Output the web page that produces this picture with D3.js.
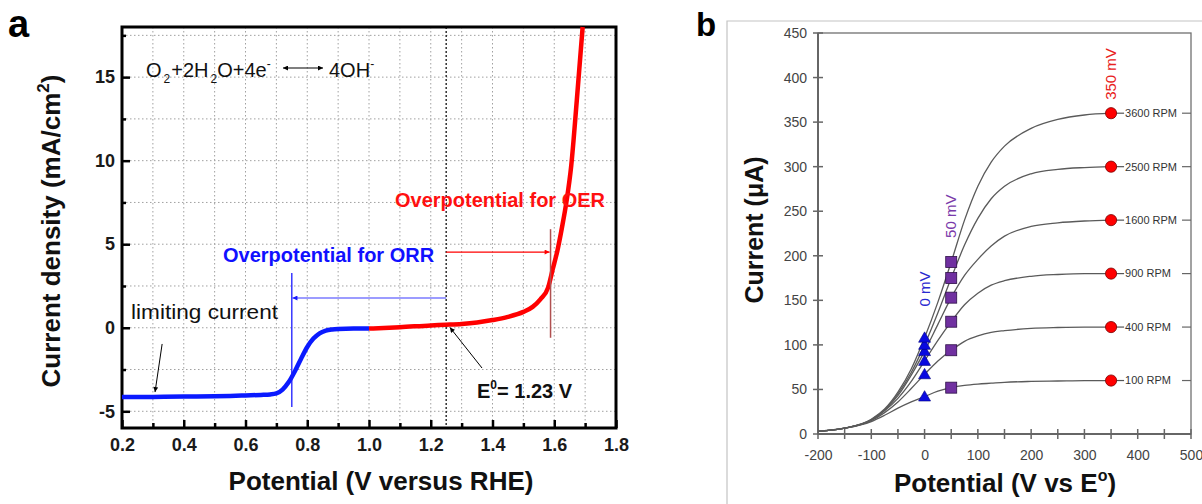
<!DOCTYPE html>
<html><head><meta charset="utf-8">
<script src="https://cdn.jsdelivr.net/npm/d3@7"></script>
<style>
body{margin:0;background:#fff;}
svg{display:block;font-family:Arial,"Liberation Sans",sans-serif;}
</style></head><body>
<svg id="c" width="1202" height="504"></svg>
<script>
// ---------- Panel a data ----------
const orrPotential = [0.2,0.3,0.4,0.5,0.55,0.6,0.65,0.68,0.7,0.72,0.74,0.76,0.78,0.8,0.82,0.84,0.86,0.88,0.9,0.95,1.0];
const orrCurrent   = [-4.15,-4.14,-4.12,-4.1,-4.08,-4.05,-4.02,-3.99,-3.93,-3.7,-3.25,-2.6,-1.85,-1.15,-0.65,-0.33,-0.17,-0.1,-0.07,-0.05,-0.05];
const oerPotential = [1.0,1.1,1.2,1.25,1.3,1.35,1.4,1.45,1.5,1.53,1.555,1.58,1.595,1.61,1.625,1.64,1.655,1.673,1.692];
const oerCurrent   = [-0.05,0.03,0.14,0.18,0.23,0.32,0.46,0.65,0.95,1.25,1.7,2.4,3.5,4.6,6.0,7.6,9.7,13.6,18];
const aXMajor = [0.2,0.4,0.6,0.8,1.0,1.2,1.4,1.6,1.8];
const aXMinor = [0.3,0.5,0.7,0.9,1.1,1.3,1.5,1.7];
const aXGrid  = [0.3,0.4,0.5,0.6,0.7,0.8,0.9,1.0,1.1,1.2,1.3,1.4,1.5,1.6,1.7];
const aYMajor = [-5,0,5,10,15];
const aYMinor = [-2.5,2.5,7.5,12.5,17.5];
const aYGrid  = [-5,-2.5,0,2.5,5,7.5,10,12.5,15,17.5];

// ---------- Panel b data ----------
const bPotential = [-200,-150,-100,-75,-50,-25,0,25,50,75,100,125,150,200,250,300,350];
const rpmLabels = ["100 RPM","400 RPM","900 RPM","1600 RPM","2500 RPM","3600 RPM"];
const i100  = [3,6.5,14,21,29,36,42,48,52,54.5,56,57,58,59,59.5,60,60];
const i400  = [3,6.5,15,24,36,51,67,82,94,104,110,114,116,118.5,119.5,120,120];
const i900  = [3,6.5,15.5,26,40,59,82,105,126,145,158,167,172,177,179,180,180];
const i1600 = [3,6.5,16,27,43,66,93,123,153,178,196,211,222,233,237,239,240];
const i2500 = [3,6.5,16,27,45,69,100,136,175,212,242,264,278,292,297,299,300];
const i3600 = [3,6.5,16.5,28,47,73,108,148,193,240,278,305,323,343,353,358,360];
const bCurves = [i100,i400,i900,i1600,i2500,i3600];
const tri0mV   = [42,67,82,93,100,108];
const sq50mV   = [52,94,126,153,175,193];
const circ350mV= [60,120,180,240,300,360];
const bYTicks = [0,50,100,150,200,250,300,350,400,450];
const bXLabels = [-200,-100,0,100,200,300,400,500];
const bXTicks = [-200,-150,-100,-50,0,50,100,150,200,250,300,350,400,450,500];

const svg = d3.select("#c");
const defs = svg.append("defs");
function arrowMarker(id, color, w, h){
  defs.append("marker").attr("id",id).attr("viewBox","0 0 10 10").attr("refX",10).attr("refY",5)
    .attr("markerWidth",w).attr("markerHeight",h).attr("markerUnits","userSpaceOnUse").attr("orient","auto-start-reverse")
    .append("path").attr("d","M0,0L10,5L0,10z").attr("fill",color);
}
arrowMarker("ak","#000",9,5);
arrowMarker("ab","#1a1aff",10,5);
arrowMarker("ar","#ff0000",10,5);
const hyph = d => String(d).replace("\u2212","-");

// =================== Panel a ===================
const xA = d3.scaleLinear([0.2,1.8],[122,616]);
const yA = d3.scaleLinear([-6,18],[428,27]);
const gA = svg.append("g");

// grid
gA.append("g").selectAll("line").data(aXGrid).join("line")
  .attr("x1",d=>xA(d)).attr("x2",d=>xA(d)).attr("y1",yA(18)).attr("y2",yA(-6))
  .attr("stroke","#a0a0a0").attr("stroke-width",1).attr("stroke-dasharray","1.5,2.5");
gA.append("g").selectAll("line").data(aYGrid).join("line")
  .attr("y1",d=>yA(d)).attr("y2",d=>yA(d)).attr("x1",xA(0.2)).attr("x2",xA(1.8))
  .attr("stroke","#a0a0a0").attr("stroke-width",1).attr("stroke-dasharray","1.5,2.5");

// E0 dashed line
gA.append("line").attr("x1",xA(1.25)).attr("x2",xA(1.25)).attr("y1",yA(18)).attr("y2",yA(-6))
  .attr("stroke","#222").attr("stroke-width",1.4).attr("stroke-dasharray","2,2");

// axes
const axXA = d3.axisBottom(xA).tickValues(aXMajor).tickSize(-8).tickPadding(10).tickFormat(d3.format(".1f"));
gA.append("g").attr("transform",`translate(0,${yA(-6)})`).call(axXA);
gA.append("g").attr("transform",`translate(0,${yA(-6)})`).call(d3.axisBottom(xA).tickValues(aXMinor).tickSize(-5).tickFormat(""));
const axYA = d3.axisLeft(yA).tickValues(aYMajor).tickSize(-8).tickPadding(7).tickFormat(d=>String(d));
gA.append("g").attr("transform",`translate(${xA(0.2)},0)`).call(axYA);
gA.append("g").attr("transform",`translate(${xA(0.2)},0)`).call(d3.axisLeft(yA).tickValues(aYMinor).tickSize(-4).tickFormat(""));
gA.selectAll(".domain").remove();
gA.selectAll(".tick line").attr("stroke","#000").attr("stroke-width",2.5);
gA.selectAll(".tick text").attr("font-size",18).attr("font-weight","bold").attr("fill","#1a1a1a")
  .attr("font-family","Arial, 'Liberation Sans', sans-serif");

// frame
gA.append("rect").attr("x",xA(0.2)).attr("y",yA(18)).attr("width",xA(1.8)-xA(0.2)).attr("height",yA(-6)-yA(18))
  .attr("fill","none").attr("stroke","#000").attr("stroke-width",3);

// curves
const lineA = d3.line().x(d=>xA(d[0])).y(d=>yA(d[1])).curve(d3.curveMonotoneX);
gA.append("path").datum(d3.zip(orrPotential,orrCurrent)).attr("d",lineA)
  .attr("fill","none").attr("stroke","#0a1aff").attr("stroke-width",4.5);
gA.append("path").datum(d3.zip(oerPotential,oerCurrent)).attr("d",lineA)
  .attr("fill","none").attr("stroke","#ff0000").attr("stroke-width",4.5);

// annotation lines
gA.append("line").attr("x1",xA(0.75)).attr("x2",xA(0.75)).attr("y1",yA(3.28)).attr("y2",yA(-4.75))
  .attr("stroke","#1a1aff").attr("stroke-width",1.3);
gA.append("line").attr("x1",xA(1.25)).attr("x2",xA(0.752)).attr("y1",yA(1.78)).attr("y2",yA(1.78))
  .attr("stroke","#3a3aff").attr("stroke-width",1.2).attr("marker-end","url(#ab)");
gA.append("line").attr("x1",xA(1.25)).attr("x2",xA(1.585)).attr("y1",yA(4.53)).attr("y2",yA(4.53))
  .attr("stroke","#ff0000").attr("stroke-width",1.3).attr("marker-end","url(#ar)");
gA.append("line").attr("x1",xA(1.588)).attr("x2",xA(1.588)).attr("y1",yA(5.9)).attr("y2",yA(-0.6))
  .attr("stroke","#b05050").attr("stroke-width",1.5);
gA.append("line").attr("x1",xA(1.366)).attr("y1",yA(-2.41)).attr("x2",xA(1.262)).attr("y2",yA(0.02))
  .attr("stroke","#000").attr("stroke-width",1).attr("marker-end","url(#ak)");
gA.append("line").attr("x1",xA(0.33)).attr("y1",yA(-0.97)).attr("x2",xA(0.307)).attr("y2",yA(-3.85))
  .attr("stroke","#000").attr("stroke-width",1).attr("marker-end","url(#ak)");
gA.append("line").attr("x1",283).attr("x2",323).attr("y1",68).attr("y2",68)
  .attr("stroke","#000").attr("stroke-width",1.2).attr("marker-end","url(#ak)").attr("marker-start","url(#ak)");

// texts
const eq = gA.append("text").attr("x",146).attr("y",77).attr("font-size",20).attr("fill","#111");
eq.append("tspan").text("O");
eq.append("tspan").attr("font-size",12).attr("dy",6).attr("dx",2).text("2");
eq.append("tspan").attr("dy",-6).attr("dx",1).text("+2H");
eq.append("tspan").attr("font-size",12).attr("dy",6).attr("dx",2).text("2");
eq.append("tspan").attr("dy",-6).attr("dx",0).text("O+4e");
eq.append("tspan").attr("font-size",12).attr("dy",-9).text("-");
const oh = gA.append("text").attr("x",329).attr("y",77).attr("font-size",20).attr("fill","#111");
oh.append("tspan").text("4OH");
oh.append("tspan").attr("font-size",12).attr("dy",-9).text("-");

gA.append("text").attr("x",131).attr("y",319).attr("font-size",21).attr("fill","#111")
  .attr("textLength",147).attr("lengthAdjust","spacingAndGlyphs").text("limiting current");
gA.append("text").attr("x",223).attr("y",262).attr("font-size",20).attr("font-weight","bold").attr("fill","#1010ff").text("Overpotential for ORR");
gA.append("text").attr("x",395).attr("y",207).attr("font-size",20).attr("font-weight","bold").attr("fill","#ff1010").text("Overpotential for OER");
const e0 = gA.append("text").attr("x",477).attr("y",398).attr("font-size",20).attr("font-weight","bold").attr("fill","#111");
e0.append("tspan").text("E");
e0.append("tspan").attr("font-size",12).attr("dy",-9).text("0");
e0.append("tspan").attr("dy",9).text("= 1.23 V");

// axis titles
gA.append("text").attr("x",381).attr("y",490).attr("text-anchor","middle").attr("font-size",26)
  .attr("font-weight","bold").attr("fill","#111").text("Potential (V versus RHE)");
const yt = gA.append("text").attr("transform","translate(60,231) rotate(-90)").attr("text-anchor","middle")
  .attr("font-size",26).attr("font-weight","bold").attr("fill","#111");
yt.append("tspan").text("Current density (mA/cm");
yt.append("tspan").attr("font-size",17).attr("dy",-11).text("2");
yt.append("tspan").attr("dy",11).text(")");
svg.append("text").attr("x",8).attr("y",37).attr("font-size",38).attr("font-weight","bold").attr("fill","#000").text("a");

// =================== Panel b ===================
const xB = d3.scaleLinear([-200,500],[818,1191]);
const yB = d3.scaleLinear([0,450],[434,33]);
const gB = svg.append("g");

// outer light frame
gB.append("path").attr("d","M727,504V21H1202").attr("fill","none").attr("stroke","#c4c4c4").attr("stroke-width",1.2);
svg.append("text").attr("x",696).attr("y",36).attr("font-size",33).attr("font-weight","bold").attr("fill","#000").text("b");

// frame + axes
gB.append("rect").attr("x",xB(-200)).attr("y",yB(450)).attr("width",xB(500)-xB(-200)).attr("height",yB(0)-yB(450))
  .attr("fill","none").attr("stroke","#707070").attr("stroke-width",1.3);
gB.append("line").attr("x1",xB(-200)).attr("x2",xB(-200)).attr("y1",yB(450)).attr("y2",yB(0)).attr("stroke","#666").attr("stroke-width",2);
gB.append("line").attr("x1",xB(-200)).attr("x2",xB(500)).attr("y1",yB(0)).attr("y2",yB(0)).attr("stroke","#666").attr("stroke-width",2);

gB.append("g").selectAll("line").data(bYTicks).join("line")
  .attr("x1",xB(-200)-5).attr("x2",xB(-200)+5).attr("y1",d=>yB(d)).attr("y2",d=>yB(d))
  .attr("stroke","#666").attr("stroke-width",1.5);
gB.append("g").selectAll("line").data(bXTicks).join("line")
  .attr("y1",yB(0)-5).attr("y2",yB(0)+5).attr("x1",d=>xB(d)).attr("x2",d=>xB(d))
  .attr("stroke","#666").attr("stroke-width",1.5);
gB.append("g").selectAll("line").data(circ350mV).join("line")
  .attr("x1",xB(500)-9).attr("x2",xB(500)).attr("y1",d=>yB(d)).attr("y2",d=>yB(d))
  .attr("stroke","#666").attr("stroke-width",1.2);

const axYB = d3.axisLeft(yB).tickValues(bYTicks).tickSize(0).tickPadding(11).tickFormat(d=>String(d));
const gyb = gB.append("g").attr("transform",`translate(${xB(-200)},0)`).call(axYB);
const axXB = d3.axisBottom(xB).tickValues(bXLabels).tickSize(0).tickPadding(16).tickFormat(d=>String(d));
const gxb = gB.append("g").attr("transform",`translate(0,${yB(0)})`).call(axXB);
gyb.select(".domain").remove(); gxb.select(".domain").remove();
gB.selectAll(".tick text").attr("font-size",14).attr("fill","#444").attr("font-family","Arial, 'Liberation Sans', sans-serif");

// curves
const lineB = d3.line().x(d=>xB(d[0])).y(d=>yB(d[1])).curve(d3.curveMonotoneX);
gB.append("g").selectAll("path").data(bCurves).join("path")
  .attr("d",c=>lineB(d3.zip(bPotential,c)))
  .attr("fill","none").attr("stroke","#5a5a5a").attr("stroke-width",1.3);

// leader from circle to label
gB.append("g").selectAll("line").data(circ350mV).join("line")
  .attr("x1",xB(350)).attr("x2",xB(350)+13).attr("y1",d=>yB(d)).attr("y2",d=>yB(d))
  .attr("stroke","#555").attr("stroke-width",1.2);

// markers
gB.append("g").selectAll("path").data(tri0mV).join("path")
  .attr("transform",d=>`translate(${xB(0)},${yB(d)+1})`)
  .attr("d",d3.symbol(d3.symbolTriangle,62))
  .attr("fill","#0a0ae0").attr("stroke","#000080").attr("stroke-width",0.6);
gB.append("g").selectAll("rect").data(sq50mV).join("rect")
  .attr("x",xB(50)-5.5).attr("y",d=>yB(d)-5.5).attr("width",11).attr("height",11)
  .attr("fill","#7030a0").attr("stroke","#2e1048").attr("stroke-width",0.8);
gB.append("g").selectAll("circle").data(circ350mV).join("circle")
  .attr("cx",xB(350)).attr("cy",d=>yB(d)).attr("r",5.6)
  .attr("fill","#ff0000").attr("stroke","#7a0000").attr("stroke-width",0.8);

// RPM labels
gB.append("g").selectAll("text").data(rpmLabels).join("text")
  .attr("x",xB(350)+14).attr("y",(d,i)=>yB(circ350mV[i])).attr("dy","0.35em")
  .attr("font-size",11).attr("fill","#333").text(d=>d);

// potential labels
gB.append("text").attr("transform",`translate(${xB(0)+5},${yB(143)}) rotate(-90)`)
  .attr("font-size",15).attr("fill","#2a2ad0").text("0 mV");
gB.append("text").attr("transform",`translate(${xB(50)+5},${yB(220)}) rotate(-90)`)
  .attr("font-size",15).attr("fill","#7a3aaa").text("50 mV");
gB.append("text").attr("transform",`translate(${xB(350)+5},${yB(375)}) rotate(-90)`)
  .attr("font-size",15).attr("fill","#e82020").text("350 mV");

// axis titles
gB.append("text").attr("x",1005).attr("y",492).attr("text-anchor","middle").attr("font-size",26)
  .attr("font-weight","bold").attr("fill","#111")
  .call(t=>{t.append("tspan").text("Potential (V vs E");t.append("tspan").attr("font-size",16).attr("dy",-11).text("o");t.append("tspan").attr("dy",11).text(")");});
gB.append("text").attr("transform","translate(763,230) rotate(-90)").attr("text-anchor","middle")
  .attr("font-size",25).attr("font-weight","bold").attr("fill","#111").text("Current (μA)");
</script>
</body></html>
